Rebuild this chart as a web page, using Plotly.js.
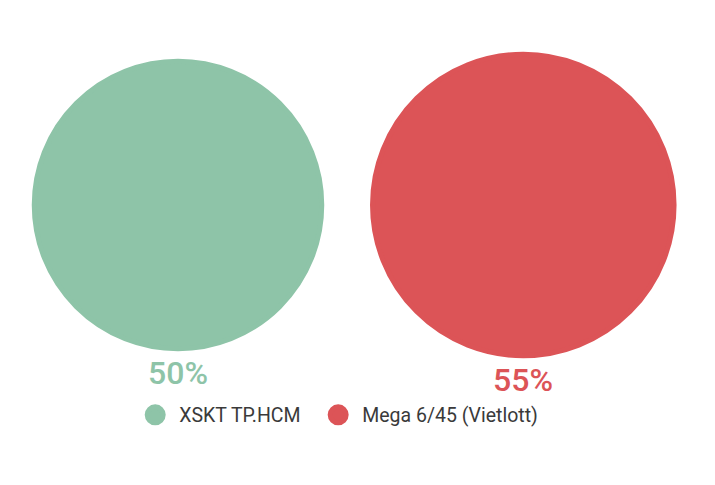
<!DOCTYPE html>
<html>
<head>
<meta charset="utf-8">
<script src="https://cdn.plot.ly/plotly-3.0.1.min.js"></script>
<style>html,body{margin:0;padding:0;background:#fff;}#chart{width:715px;height:485px;}</style>
</head>
<body>
<div id="chart"></div>
<script>
const names = ["XSKT TP.HCM", "Mega 6/45 (Vietlott)"];
const values = [50, 55];
const labels = ["50%", "55%"];
const colors = ["#8ec4a8", "#dc5457"];

const LINE_W = 5;
const baseDiam = 292.5 - LINE_W;
// plotly area mode: diameter = sqrt(2 * v / sizeref)
const sizeref = 2 * values[0] / (baseDiam * baseDiam);
const legendIds = ["legend", "legend2"];

const traces = names.map((n, i) => ({
  type: "scatter",
  mode: "markers",
  name: n,
  legend: legendIds[i],
  x: [i],
  y: [0],
  marker: {
    size: [values[i]],
    sizemode: "area",
    sizeref: sizeref,
    color: colors[i],
    opacity: 1,
    line: {width: LINE_W, color: colors[i]}
  },
  hoverinfo: "skip",
  cliponaxis: false
}));

// value labels placed just below each bubble (radius from same area scaling)
const annotations = names.map((n, i) => {
  const r = (Math.sqrt(2 * values[i] / sizeref) + LINE_W) / 2;
  return {
    x: i, y: 0, xref: "x", yref: "y",
    text: labels[i],
    showarrow: false,
    yanchor: "middle",
    yshift: -(r + 22),
    font: {family: "Roboto, sans-serif", size: 32, color: colors[i], weight: 500}
  };
});

const legendStyle = (x) => ({
  orientation: "h",
  x: x, xanchor: "left",
  y: 0.144, yanchor: "middle",
  font: {family: "Roboto, sans-serif", size: 19.5, color: "#3a3a3a"},
  itemsizing: "trace",
  itemwidth: 38,
  bgcolor: "rgba(0,0,0,0)"
});

const layout = {
  width: 715,
  height: 485,
  margin: {l: 0, r: 0, t: 0, b: 0},
  paper_bgcolor: "#ffffff",
  plot_bgcolor: "#ffffff",
  showlegend: true,
  xaxis: {range: [-0.5155, 1.5552], visible: false, fixedrange: true},
  yaxis: {range: [-1, 0.732], visible: false, fixedrange: true},
  annotations: annotations,
  legend: legendStyle(0.1835),
  legend2: legendStyle(0.4394),
  font: {family: "Roboto, sans-serif"}
};

Plotly.newPlot("chart", traces, layout, {displayModeBar: false, staticPlot: true});
</script>
</body>
</html>
